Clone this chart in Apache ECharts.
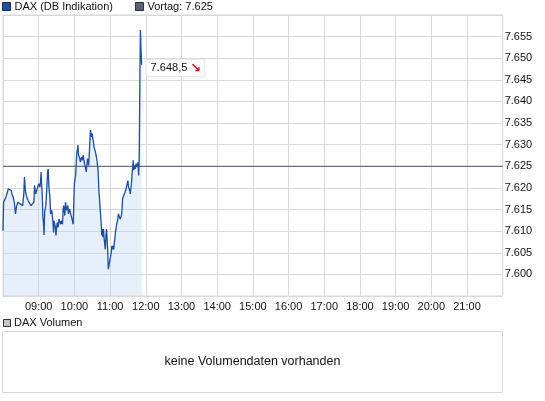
<!DOCTYPE html>
<html><head><meta charset="utf-8">
<script src="https://cdn.jsdelivr.net/npm/echarts@6/dist/echarts.min.js"></script>
<style>html,body{margin:0;padding:0;background:#fff}#c{width:545px;height:401px}</style>
</head><body><div id="c"></div>
<script>
const times = ['08:00','08:01','08:03','08:05','08:07','08:09','08:11','08:14','08:15','08:17','08:19','08:21','08:23','08:25','08:27','08:29','08:31','08:33','08:35','08:36','08:38','08:40','08:42','08:43','08:45','08:47','08:49','08:52','08:53','08:55','08:56','08:58',
'09:00','09:02','09:03','09:04','09:05','09:06','09:07','09:08','09:09','09:10','09:12','09:13','09:15','09:16','09:17','09:19','09:20','09:22','09:24','09:25','09:26','09:28','09:29','09:31','09:33','09:34','09:37','09:38','09:40','09:41','09:42','09:44','09:45','09:47','09:49','09:50','09:52','09:53','09:56','09:58','09:59',
'10:00','10:02','10:03','10:04','10:06','10:07','10:09','10:10','10:12','10:13','10:15','10:16','10:18','10:19','10:20','10:21','10:22','10:24','10:25','10:26','10:27','10:29','10:30','10:31','10:32','10:33','10:35','10:36','10:38','10:40','10:41','10:43','10:45','10:46','10:47','10:48','10:49','10:50','10:52','10:53','10:54','10:55','10:56','10:57','10:59',
'11:00','11:02','11:03','11:04','11:05','11:06','11:08','11:09','11:11','11:13','11:14','11:16','11:17','11:19','11:20','11:21','11:23','11:25','11:26','11:27','11:28','11:30','11:31','11:33','11:34','11:36','11:37','11:39','11:40','11:41','11:42','11:44','11:46','11:47','11:48','11:49','11:50','11:51','11:52','11:53'];
const prices = [7610.1,7616.7,7616.9,7617.9,7617.5,7619.8,7619.7,7619.4,7618.6,7617.9,7616.7,7614.0,7615.9,7616.7,7617.1,7616.3,7616.7,7615.9,7618.6,7622.5,7619.0,7617.9,7617.1,7616.7,7617.1,7615.9,7616.3,7616.7,7620.6,7618.6,7619.0,7618.3,
7621.0,7620.2,7621.3,7623.7,7620.6,7618.3,7613.2,7612.0,7609.1,7614.4,7615.9,7618.3,7623.7,7624.4,7620.6,7617.5,7614.0,7614.8,7612.0,7609.7,7612.4,7610.9,7609.0,7612.0,7610.9,7612.8,7611.6,7612.4,7611.6,7615.1,7615.9,7613.6,7616.7,7614.8,7615.9,7614.0,7615.1,7614.4,7612.8,7611.6,7616.7,
7621.0,7622.9,7625.2,7627.9,7629.9,7627.6,7626.8,7626.0,7627.2,7626.4,7627.6,7626.4,7626.8,7624.4,7623.7,7625.2,7626.8,7625.2,7627.6,7630.7,7633.4,7631.8,7632.6,7631.4,7630.7,7629.5,7629.1,7627.9,7626.4,7623.7,7619.8,7615.9,7612.0,7609.0,7610.5,7608.6,7610.5,7608.2,7605.8,7609.0,7610.5,7608.2,7605.5,7601.2,7601.2,
7600.8,7605.1,7606.6,7605.8,7606.6,7605.8,7608.2,7609.7,7611.6,7612.8,7614.0,7614.0,7612.8,7613.6,7614.8,7617.5,7618.3,7619.0,7618.6,7619.8,7620.6,7621.7,7620.2,7619.4,7618.6,7621.3,7623.3,7626.4,7624.1,7625.2,7624.4,7625.6,7624.8,7626.0,7622.9,7626.8,7644.0,7656.5,7652.0,7648.5];
const xTickLabels = ['09:00','10:00','11:00','12:00','13:00','14:00','15:00','16:00','17:00','18:00','19:00','20:00','21:00'];
const yTickLabels = ['7.600','7.605','7.610','7.615','7.620','7.625','7.630','7.635','7.640','7.645','7.650','7.655'];
const vortag = 7625;
const seriesName = 'DAX (DB Indikation)';
const vortagName = 'Vortag: 7.625';
const volumeName = 'DAX Volumen';
const noVolumeText = 'keine Volumendaten vorhanden';

const toMin = s => { const [h, m] = s.split(':').map(Number); return (h - 8) * 60 + m; };
const lineData = times.map((t, i) => [toMin(t), prices[i]]);
const fmtDE = v => v.toFixed(1).replace('.', ',').replace(/^(\d)(\d{3})/, '$1.$2');
const FONT = '"Liberation Sans", Arial, sans-serif';

const chart = echarts.init(document.getElementById('c'), null, {renderer: 'canvas'});
chart.setOption({
  animation: false,
  textStyle: {fontFamily: FONT},
  legend: {
    left: 2, top: 1, padding: 0, itemWidth: 8, itemHeight: 8, itemGap: 22,
    textStyle: {fontSize: 11, color: '#111', fontFamily: FONT, padding: [0, 0, 0, -1]},
    data: [
      {name: seriesName, icon: 'rect', itemStyle: {color: '#1f4fa3', borderColor: '#1b2a55', borderWidth: 1}},
      {name: vortagName, icon: 'rect', itemStyle: {color: '#5d6075', borderColor: '#2a2a38', borderWidth: 1}}
    ]
  },
  grid: {left: 2.5, right: 42.3, top: 15, bottom: 105, show: true, borderColor: '#d6d6d6', borderWidth: 1},
  xAxis: {
    type: 'value', min: 0, max: 840, interval: 60,
    axisLine: {show: false}, axisTick: {show: false},
    splitLine: {show: true, lineStyle: {color: '#d9d9d9', width: 1}},
    axisLabel: {
      fontSize: 11, color: '#111', margin: 5, fontFamily: FONT,
      formatter: v => { const i = v / 60 - 1; return (i >= 0 && i < xTickLabels.length) ? xTickLabels[i] : ''; }
    }
  },
  yAxis: {
    type: 'value', position: 'right', min: 7595, max: 7660, interval: 5,
    axisLine: {show: false}, axisTick: {show: false},
    splitLine: {show: true, lineStyle: {color: '#d9d9d9', width: 1}},
    axisLabel: {
      fontSize: 11, color: '#111', margin: 2, fontFamily: FONT,
      formatter: v => { const i = Math.round((v - 7600) / 5); return (i >= 0 && i < yTickLabels.length) ? yTickLabels[i] : ''; }
    }
  },
  series: [
    {
      name: seriesName, type: 'line', data: lineData, showSymbol: false, symbol: 'none',
      lineStyle: {color: '#1c4ea2', width: 1.3},
      itemStyle: {color: '#1f4fa3'},
      areaStyle: {color: 'rgba(187,209,241,0.5)', origin: 'start'},
      z: 3,
      endLabel: {
        show: true, distance: 5, offset: [0, 3],
        backgroundColor: '#fff', borderColor: '#e2e2e2', borderWidth: 1,
        padding: [2, 3, 1, 4],
        formatter: p => fmtDE(p.value[1]) + ' {a|\u2198}',
        fontSize: 11, color: '#111', fontFamily: FONT,
        rich: {a: {color: '#e8101a', fontSize: 13, fontWeight: 'bold', fontFamily: 'DejaVu Sans'}}
      }
    },
    {
      name: vortagName, type: 'line', data: [[0, vortag], [840, vortag]], showSymbol: false, symbol: 'none',
      lineStyle: {color: '#4b5372', width: 1}, itemStyle: {color: '#5d6075'}, z: 4, silent: true
    }
  ],
  graphic: [
    {type: 'rect', shape: {x: 3.5, y: 319.5, width: 7, height: 7}, style: {fill: '#c4c4c4', stroke: '#333', lineWidth: 1}},
    {type: 'text', x: 14, y: 323, style: {text: volumeName, font: '11px ' + FONT, fill: '#111', textVerticalAlign: 'middle'}},
    {type: 'rect', shape: {x: 2.5, y: 331.5, width: 500, height: 61}, style: {fill: 'none', stroke: '#d6d6d6', lineWidth: 1}},
    {type: 'text', x: 252.5, y: 361.5, style: {text: noVolumeText, font: '12.5px ' + FONT, fill: '#111', textAlign: 'center', textVerticalAlign: 'middle'}}
  ]
});
</script>
</body></html>
